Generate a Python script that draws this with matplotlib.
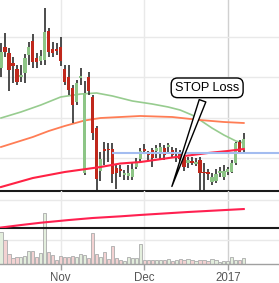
import matplotlib
matplotlib.use('Agg')
import matplotlib.pyplot as plt
import numpy as np

plt.rcParams['font.family'] = ['Liberation Sans', 'DejaVu Sans']

# ---- data ----
opens = [122.32, 127.53, 126.04, 123.56, 122.07, 120.09, 121.08, 125.54, 129.0, 124.8,
         124.06, 124.3, 131.5, 127.03, 127.03, 127.53, 122.07, 120.09, 117.36, 113.89,
         119.84, 96.28, 120.09, 115.13, 107.44, 96.78, 102.23, 102.23, 102.23, 97.52,
         97.27, 95.78, 95.54, 95.29, 97.77, 99.75, 102.23, 101.24, 101.98, 101.74,
         101.49, 102.48, 102.73, 101.98, 100.99, 101.24, 100.25, 98.76, 99.26, 98.51,
         99.5, 96.53, 96.53, 94.05, 94.3, 96.28, 95.29, 96.53, 96.53, 98.76,
         103.97, 101.98]
highs = [128.52, 131.0, 127.28, 125.05, 123.06, 123.06, 125.79, 128.77, 130.75, 126.04,
         126.78, 137.2, 132.24, 128.77, 128.52, 130.0, 123.06, 123.06, 118.1, 119.34,
         122.32, 119.1, 121.33, 115.62, 107.94, 101.49, 103.97, 103.72, 103.72, 98.26,
         98.26, 97.02, 98.26, 99.0, 100.0, 102.48, 103.47, 101.74, 102.48, 103.22,
         103.72, 103.22, 103.72, 102.73, 102.48, 101.98, 101.24, 100.25, 100.25, 100.0,
         100.25, 98.76, 97.27, 96.28, 97.27, 97.77, 98.26, 97.77, 99.5, 103.97,
         104.46, 106.2]
lows = [120.09, 125.05, 116.62, 118.6, 118.1, 118.85, 118.6, 123.06, 122.32, 122.32,
        123.06, 123.06, 125.05, 125.05, 125.54, 122.82, 118.1, 115.62, 108.68, 113.14,
        118.1, 95.78, 115.62, 104.46, 92.06, 94.3, 98.26, 99.0, 93.8, 92.31,
        95.29, 94.54, 94.54, 94.54, 97.27, 98.76, 101.24, 99.5, 97.77, 100.0,
        99.5, 99.5, 101.49, 100.0, 99.0, 98.26, 96.78, 97.52, 98.26, 98.02,
        92.06, 92.06, 94.54, 93.3, 93.8, 95.29, 94.54, 95.78, 96.28, 98.26,
        101.24, 101.49]
closes = [126.29, 126.29, 121.82, 122.82, 118.85, 120.58, 124.8, 127.53, 123.81, 123.81,
          125.3, 131.25, 126.29, 126.04, 126.54, 124.06, 118.85, 116.86, 113.14, 118.6,
          120.34, 116.12, 116.62, 106.2, 94.79, 99.75, 101.74, 101.98, 96.03, 96.28,
          96.78, 96.28, 96.28, 97.27, 98.76, 101.74, 101.74, 100.74, 100.0, 102.48,
          102.73, 100.74, 103.22, 100.74, 101.49, 99.75, 97.77, 99.5, 98.76, 99.0,
          96.28, 96.28, 96.03, 95.29, 96.03, 96.78, 96.78, 97.27, 98.76, 103.72,
          101.49, 104.71]
volumes = [7.9, 6.0, 2.5, 1.4, 1.7, 1.7, 2.0, 3.25, 3.25, 1.7,
           2.7, 12.75, 3.1, 2.25, 1.0, 2.0, 1.7, 1.7, 2.0, 1.7,
           2.5, 2.25, 1.4, 7.7, 2.4, 1.7, 3.1, 1.2, 4.6, 1.4,
           1.0, 0.75, 1.7, 1.4, 1.4, 5.0, 1.0, 1.0, 0.9, 1.0,
           0.9, 1.0, 1.25, 0.75, 1.1, 1.25, 0.9, 1.25, 1.0, 0.75,
           1.0, 0.9, 0.75, 1.25, 0.9, 0.6, 0.75, 0.75, 1.8, 1.1,
           1.0, 1.4]

ma_green_idx = [0, 5, 10, 15, 20, 24, 28, 33, 38, 42, 45, 48, 50, 53, 56, 59, 61]
ma_green_val = [109.92, 111.41, 113.14, 115.13, 115.87, 116.12, 115.38, 114.14, 113.39,
                112.65, 111.9, 110.66, 109.42, 107.44, 105.7, 104.22, 103.72]
ma_orange_idx = [0, 4, 8, 12, 16, 21, 25, 35, 43, 50, 56, 61]
ma_orange_val = [102.73, 103.97, 105.21, 106.7, 107.94, 109.3, 109.92, 110.42, 110.17,
                 109.42, 108.93, 108.68]
ma_red_idx = [0, 8, 16, 25, 30, 35, 43, 48, 52, 57, 61]
ma_red_val = [92.81, 95.04, 96.53, 97.77, 98.64, 99.0, 100.12, 100.74, 101.24, 101.74, 102.23]

ind_idx = [0, 5, 10, 17, 23, 30, 35, 47, 61]
ind_val = [30.5, 33.2, 35.7, 38.6, 40.8, 42.6, 44.1, 47.3, 50.5]

stop_level = 101.24
stop_start = 28
stop_label = 'STOP Loss'
stop_point = (42.7, 92.3)
stop_text_pos = (51.8, 117.4)

month_ticks = [15, 36, 57]
month_labels = ['Nov', 'Dec', '2017']

# ---- figure ----
W, H = 279, 283
fig = plt.figure(figsize=(W / 100, H / 100), dpi=100)
ax1 = fig.add_axes([0, 1 - 191 / H, 1, 191 / H])
ax2 = fig.add_axes([0, 1 - 228 / H, 1, 37 / H])
ax3 = fig.add_axes([0, 1 - 264 / H, 1, 36 / H])
ax2.set_zorder(3)
ax1.set_zorder(2)
ax3.set_zorder(1)
ax2.patch.set_alpha(0)

xlim = (-0.25, 69.85)
n = len(opens)
x = np.arange(n)
o = np.array(opens); c = np.array(closes); h = np.array(highs); l = np.array(lows)
up = c >= o

green = '#8dc586'
red = '#c0281c'
wick = '#2e2e2e'
grid_c = '#e9e9e9'

for ax in (ax1, ax2, ax3):
    ax.set_xlim(*xlim)
    for t in month_ticks:
        ax.axvline(t, color='#d0d0d0' if t == month_ticks[-1] else grid_c, lw=1, zorder=0)
    for s in ('top', 'left', 'right'):
        ax.spines[s].set_visible(False)
    ax.set_yticks([])

# main panel
ax1.set_ylim(91.82, 139.18)
for g in (100, 110, 120, 130):
    ax1.axhline(g, color=grid_c, lw=1, zorder=0)
ax1.plot(ma_green_idx, ma_green_val, color='#97cc8f', lw=1.2, zorder=1)
ax1.plot(ma_orange_idx, ma_orange_val, color='#ff7d55', lw=1.3, zorder=1)
ax1.vlines(x, l, h, color=wick, lw=1.2, zorder=2)
body_h = np.maximum(np.abs(c - o), 0.3)
ax1.bar(x, body_h, bottom=np.minimum(o, c), width=0.82,
        color=np.where(up, green, red), zorder=3)
ax1.plot(ma_red_idx, ma_red_val, color='#ff2244', lw=1.5, zorder=4)
ax1.hlines(stop_level, stop_start, xlim[1], color='#a3bcf0', lw=1.5, zorder=4)
ax1.annotate(stop_label, xy=stop_point, xytext=stop_text_pos,
             ha='center', va='center', fontsize=9.2, color='black', zorder=6,
             bbox=dict(boxstyle='round,pad=0.3,rounding_size=0.5', fc='white', ec='black', lw=1),
             arrowprops=dict(arrowstyle='wedge,tail_width=0.55,shrink_factor=0.5',
                             fc='white', ec='black', lw=1))
ax1.spines['bottom'].set_color('#1a1a1a')
ax1.spines['bottom'].set_linewidth(1.5)
ax1.set_xticks([])

# indicator panel
ax2.set_ylim(30, 70)
ax2.axhline(60, color=grid_c, lw=1, zorder=0)
ax2.plot(ind_idx, ind_val, color='#ff2050', lw=1.5, zorder=3)
ax2.spines['bottom'].set_color('#1a1a1a')
ax2.spines['bottom'].set_linewidth(1.5)
ax2.set_xticks([])

# volume panel
ax3.set_ylim(0, 9)
ax3.axhline(6, color=grid_c, lw=1, zorder=0)
ax3.bar(x, volumes, width=0.8, color=np.where(up, '#e3eedd', '#f3d2d2'),
        edgecolor='#b4b4b4', linewidth=0.7, clip_on=False, zorder=2)
ax3.spines['bottom'].set_color('#a0a0a0')
ax3.spines['bottom'].set_linewidth(1)
ax3.set_xticks(month_ticks)
ax3.set_xticklabels(month_labels)
ax3.tick_params(axis='x', direction='out', length=4, width=1, color='#a0a0a0',
                labelcolor='#555555', labelsize=8.3, pad=2)

fig.savefig('out.png', dpi=100)
